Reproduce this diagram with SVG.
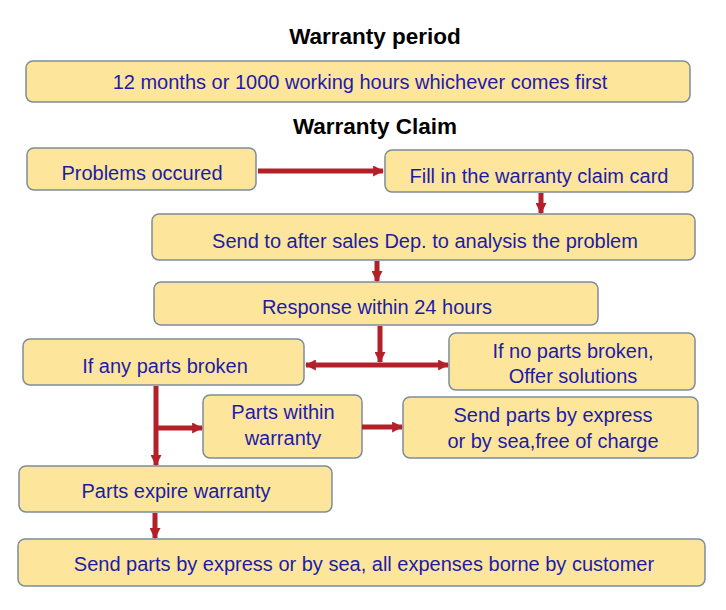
<svg xmlns="http://www.w3.org/2000/svg" width="726" height="610" viewBox="0 0 726 610">
<defs>
<style>
.box{fill:#fde69c;stroke:#7d8c99;stroke-width:1.5}
.t{font-family:"Liberation Sans",Arial,sans-serif;font-size:20px;fill:#1c1ca8;text-anchor:middle}
.h{font-family:"Liberation Sans",Arial,sans-serif;font-size:22.5px;font-weight:bold;fill:#000;text-anchor:middle}
.c{stroke:#b3202a;stroke-width:5;fill:none}
</style>
<marker id="ah" viewBox="0 0 10 10" refX="9" refY="5" markerWidth="2.2" markerHeight="2.2" orient="auto-start-reverse" markerUnits="strokeWidth">
<path d="M0,0 L10,5 L0,10 Z" fill="#b3202a"/>
</marker>
</defs>
<rect width="726" height="610" fill="#fff"/>
<text class="h" x="375" y="44">Warranty period</text>
<text class="h" x="375" y="134">Warranty Claim</text>
<g id="n-period"><rect class="box" x="26" y="61" width="664" height="41" rx="7"/><text class="t" x="360" y="89">12 months or 1000 working hours whichever comes first</text></g>
<g id="n-problems"><rect class="box" x="27" y="148" width="229" height="42" rx="7"/><text class="t" x="142" y="180">Problems occured</text></g>
<g id="n-fill"><rect class="box" x="385" y="150" width="308" height="42" rx="7"/><text class="t" x="539" y="183">Fill in the warranty claim card</text></g>
<g id="n-send"><rect class="box" x="152" y="214" width="543" height="46" rx="7"/><text class="t" x="425" y="248">Send to after sales Dep. to analysis the problem</text></g>
<g id="n-response"><rect class="box" x="154" y="282" width="444" height="43" rx="7"/><text class="t" x="377" y="314">Response within 24 hours</text></g>
<g id="n-anybroken"><rect class="box" x="23" y="339" width="281" height="46" rx="7"/><text class="t" x="165" y="373">If any parts broken</text></g>
<g id="n-nobroken"><rect class="box" x="449" y="333" width="246" height="57" rx="7"/><text class="t" x="573" y="358">If no parts broken,</text><text class="t" x="573" y="383">Offer solutions</text></g>
<g id="n-within"><rect class="box" x="203" y="395" width="159" height="63" rx="7"/><text class="t" x="283" y="419">Parts within</text><text class="t" x="283" y="445">warranty</text></g>
<g id="n-free"><rect class="box" x="403" y="397" width="295" height="61" rx="7"/><text class="t" x="553" y="422">Send parts by express</text><text class="t" x="553" y="448">or by sea,free of charge</text></g>
<g id="n-expire"><rect class="box" x="19" y="466" width="313" height="46" rx="7"/><text class="t" x="176" y="498">Parts expire warranty</text></g>
<g id="n-customer"><rect class="box" x="18" y="539" width="687" height="47" rx="7"/><text class="t" x="364" y="571">Send parts by express or by sea, all expenses borne by customer</text></g>
<g id="connectors">
<line class="c" x1="258" y1="171" x2="383" y2="171" marker-end="url(#ah)"/>
<line class="c" x1="541" y1="193" x2="541" y2="213" marker-end="url(#ah)"/>
<line class="c" x1="377" y1="261" x2="377" y2="281" marker-end="url(#ah)"/>
<line class="c" x1="380" y1="326" x2="380" y2="362" marker-end="url(#ah)"/>
<line class="c" x1="306" y1="365" x2="448" y2="365" marker-start="url(#ah)" marker-end="url(#ah)"/>
<line class="c" x1="156" y1="386" x2="156" y2="465" marker-end="url(#ah)"/>
<line class="c" x1="156" y1="428" x2="202" y2="428" marker-end="url(#ah)"/>
<line class="c" x1="362" y1="427" x2="402" y2="427" marker-end="url(#ah)"/>
<line class="c" x1="155" y1="513" x2="155" y2="538" marker-end="url(#ah)"/>
</g>
</svg>
